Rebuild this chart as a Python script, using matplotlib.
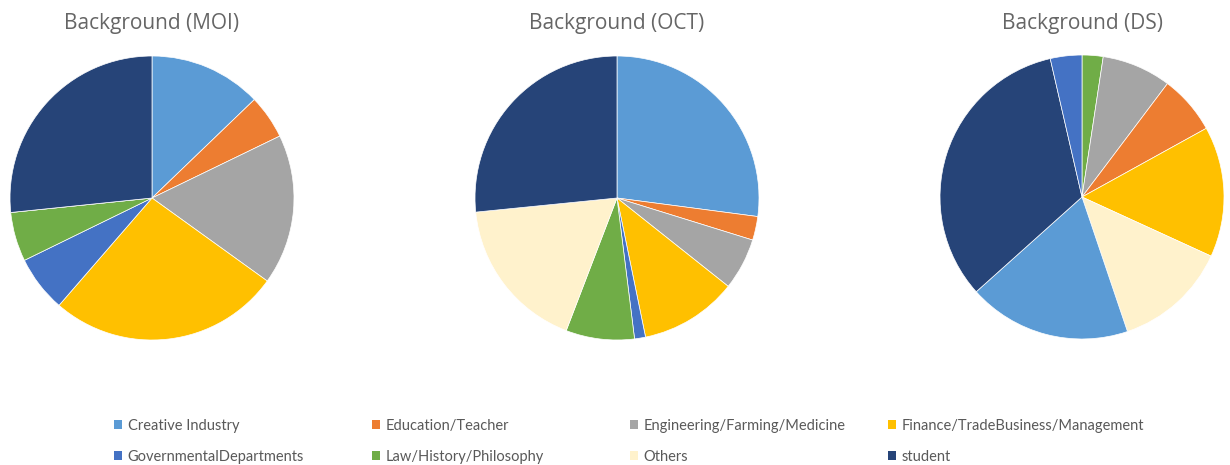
import matplotlib.pyplot as plt
from matplotlib.patches import Patch

# Background share (%) per group, clockwise from 12 o'clock
categories = [
    "Creative Industry",
    "Education/Teacher",
    "Engineering/Farming/Medicine",
    "Finance/TradeBusiness/Management",
    "GovernmentalDepartments",
    "Law/History/Philosophy",
    "Others",
    "student",
]
colors = ["#5B9BD5", "#ED7D31", "#A5A5A5", "#FFC000",
          "#4472C4", "#70AD47", "#FFF2CC", "#264478"]

moi_values = [12.8, 5.0, 17.1, 26.4, 6.4, 5.6, 0.0, 26.6]
oct_values = [27.1, 2.7, 5.9, 11.1, 1.25, 7.8, 17.6, 26.6]

# DS slices appear in a different order in the source chart
ds_order = ["Law/History/Philosophy", "Engineering/Farming/Medicine",
            "Education/Teacher", "Finance/TradeBusiness/Management",
            "Others", "Creative Industry", "student", "GovernmentalDepartments"]
ds_values = [2.4, 7.9, 6.7, 14.9, 13.0, 18.6, 33.1, 3.6]

titles = ["Background (MOI)", "Background (OCT)", "Background (DS)"]

W, H = 1230, 465
fig = plt.figure(figsize=(W / 100, H / 100), dpi=100)
fig.patch.set_facecolor("white")

color_of = dict(zip(categories, colors))
pies = [
    (categories, moi_values, 152, 198),
    (categories, oct_values, 617, 198),
    (ds_order, ds_values, 1082, 197),
]
r = 142
for (cats, vals, cx, cy), title in zip(pies, titles):
    ax = fig.add_axes([(cx - r) / W, (H - cy - r) / H, 2 * r / W, 2 * r / H])
    ax.pie(
        vals,
        colors=[color_of[c] for c in cats],
        startangle=90,
        counterclock=False,
        radius=1,
        wedgeprops=dict(edgecolor="white", linewidth=0.5),
    )
    ax.set_xlim(-1, 1)
    ax.set_ylim(-1, 1)
    ax.set_aspect("equal")
    ax.axis("off")
    fig.text(cx / W, 1 - 23 / H, title, ha="center", va="center",
             fontsize=15, color="#666666", family="Open Sans")

# legend: 4 columns of 2 rows, evenly spaced
handles = [Patch(facecolor=c, edgecolor="none") for c in colors]
col_x = [114, 372, 630, 888]
for i, x in enumerate(col_x):
    idx = [i, i + 4]
    fig.legend(
        [handles[j] for j in idx],
        [categories[j] for j in idx],
        loc="upper left",
        bbox_to_anchor=(x / W, 1 - 419 / H),
        frameon=False,
        prop=dict(family="Lato", size=10.5),
        labelcolor="#595959",
        handlelength=0.55,
        handleheight=0.55,
        handletextpad=0.4,
        labelspacing=1.15,
        borderpad=0,
        borderaxespad=0,
    )

plt.savefig("out.png", dpi=100, facecolor="white")
plt.close()
